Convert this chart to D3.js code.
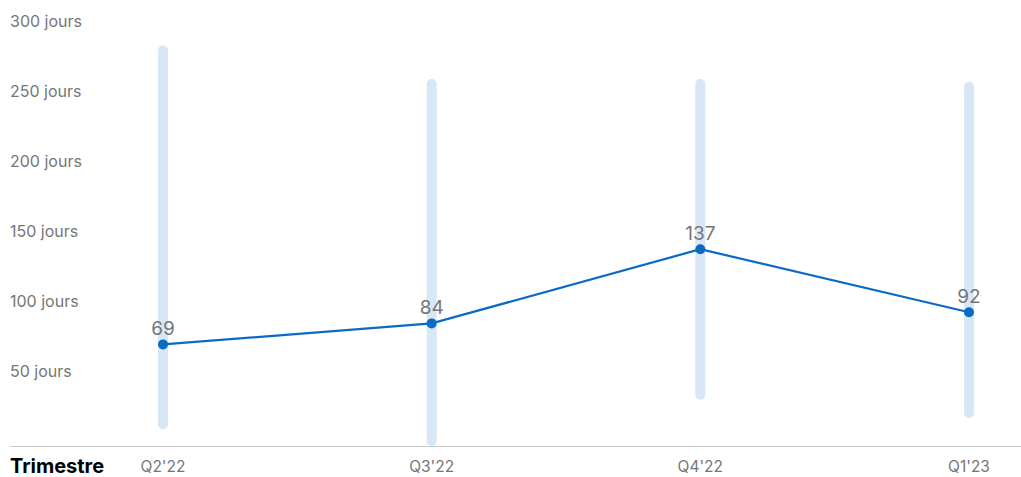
<!DOCTYPE html>
<html>
<head>
<meta charset="utf-8">
<script src="https://cdn.jsdelivr.net/npm/d3@7"></script>
<style>
  body { margin: 0; background: #fff; }
  svg { display: block; font-family: Inter, "Noto Sans", sans-serif; }
</style>
</head>
<body>
<svg width="1021" height="477"></svg>
<script>
// trimestres et durées (jours)
const quarters = ["Q2'22", "Q3'22", "Q4'22", "Q1'23"];
const medianDays = [69, 84, 137, 92];
const rangeLow = [12, 0, 33, 20];
const rangeHigh = [279, 255, 255, 253];
const yTicks = [50, 100, 150, 200, 250, 300];

const svg = d3.select("svg"),
    width = +svg.attr("width"),
    height = +svg.attr("height");

const x = d3.scalePoint()
    .domain(quarters)
    .range([163, 969]);

const y = d3.scaleLinear()
    .domain([0, 300])
    .range([441, 21]);

const blue = "#0a6ac4";

// libellés de l'axe Y (pas de grille)
svg.append("g").selectAll("text")
    .data(yTicks)
    .join("text")
    .attr("x", 10)
    .attr("y", d => y(d))
    .attr("dy", "0.35em")
    .attr("fill", "#767676")
    .style("font-size", "16px")
    .text(d => d + " jours");

// barres d'étendue
svg.append("g").selectAll("line")
    .data(quarters)
    .join("line")
    .attr("x1", d => x(d))
    .attr("x2", d => x(d))
    .attr("y1", (d, i) => y(rangeLow[i]))
    .attr("y2", (d, i) => y(rangeHigh[i]))
    .attr("stroke", "#d7e7f6")
    .attr("stroke-width", 10)
    .attr("stroke-linecap", "round");

// axe X
svg.append("line")
    .attr("x1", 10)
    .attr("x2", width)
    .attr("y1", 446.5)
    .attr("y2", 446.5)
    .attr("stroke", "#c8c8c8")
    .attr("stroke-width", 1);

svg.append("text")
    .attr("x", 10)
    .attr("y", 473)
    .attr("fill", "#000")
    .style("font-size", "20px")
    .style("font-weight", "700")
    .text("Trimestre");

svg.append("g").selectAll("text")
    .data(quarters)
    .join("text")
    .attr("x", d => x(d))
    .attr("y", 472)
    .attr("text-anchor", "middle")
    .attr("fill", "#767676")
    .style("font-size", "15.5px")
    .text(d => d);

// ligne médiane
const line = d3.line()
    .x((d, i) => x(quarters[i]))
    .y(d => y(d));

svg.append("path")
    .datum(medianDays)
    .attr("d", line)
    .attr("fill", "none")
    .attr("stroke", blue)
    .attr("stroke-width", 2.2);

svg.append("g").selectAll("circle")
    .data(medianDays)
    .join("circle")
    .attr("cx", (d, i) => x(quarters[i]))
    .attr("cy", d => y(d))
    .attr("r", 5)
    .attr("fill", blue);

svg.append("g").selectAll("text")
    .data(medianDays)
    .join("text")
    .attr("x", (d, i) => x(quarters[i]))
    .attr("y", d => y(d) - 9)
    .attr("text-anchor", "middle")
    .attr("fill", "#767676")
    .style("font-size", "19px")
    .text(d => d);
</script>
</body>
</html>
